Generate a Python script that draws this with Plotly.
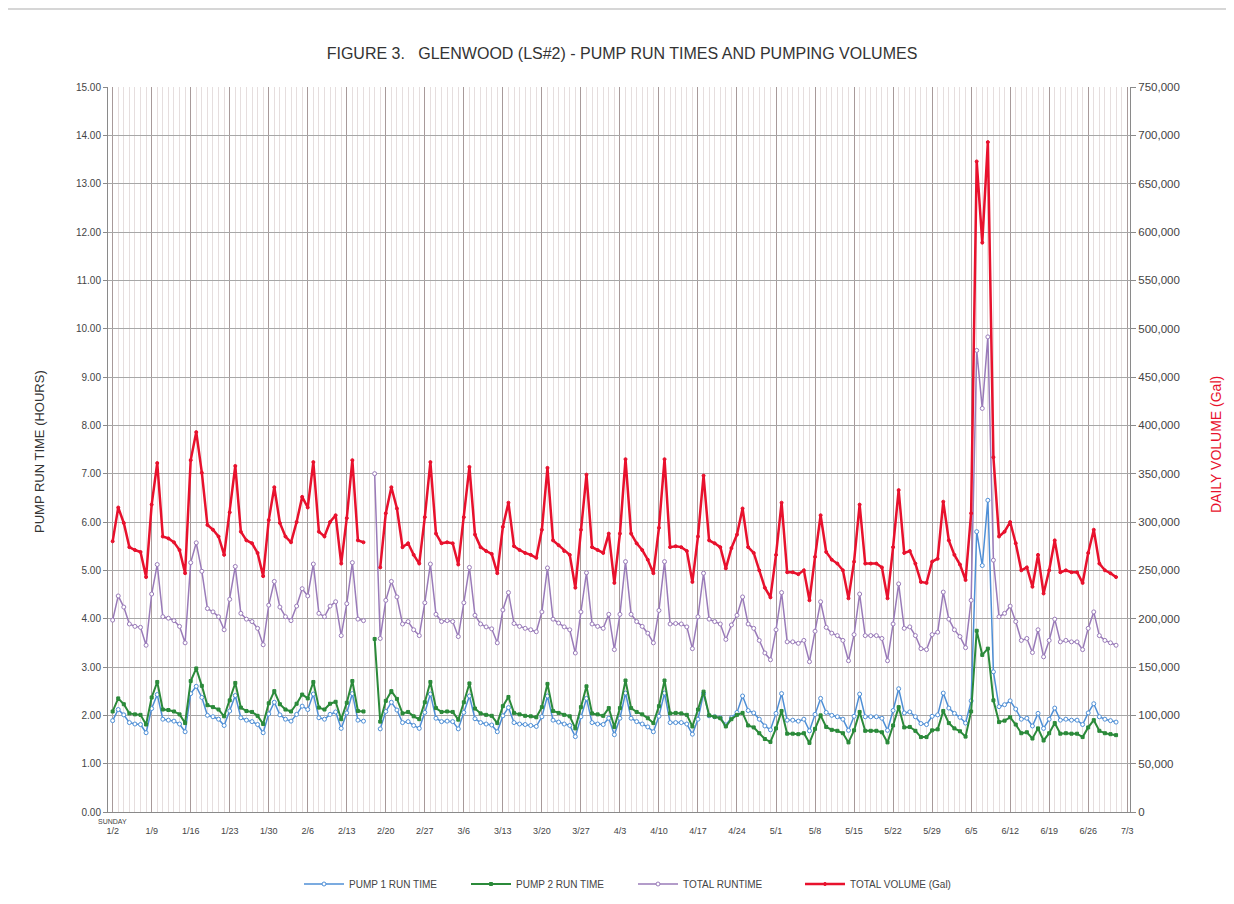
import pandas as pd
import plotly.graph_objects as go

start_date = "2011-01-02"

volume_gal = [
    280000, 315000, 299000, 274000, 271000, 269000, 243000,
    318000, 361000, 285000, 283000, 279000, 271000, 247000,
    364000, 393000, 351000, 297000, 292000, 285000, 266000,
    310000, 358000, 290000, 281000, 278000, 268000, 244000,
    302000, 336000, 299000, 285000, 279000, 300000, 326000,
    315000, 362000, 290000, 285000, 300000, 307000, 257000,
    304000, 364000, 281000, 279000, None, None, 253000,
    309000, 336000, 314000, 274000, 278000, 266000, 257000,
    305000, 362000, 288000, 278000, 279000, 278000, 256000,
    305000, 357000, 287000, 274000, 270000, 267000, 247000,
    295000, 320000, 275000, 271000, 268000, 266000, 263000,
    292000, 356000, 281000, 276000, 270000, 266000, 232000,
    292000, 349000, 274000, 271000, 268000, 288000, 237000,
    288000, 365000, 288000, 278000, 271000, 261000, 247000,
    294000, 365000, 274000, 275000, 274000, 270000, 238000,
    285000, 348000, 281000, 278000, 274000, 252000, 273000,
    287000, 314000, 274000, 268000, 250000, 232000, 222000,
    266000, 320000, 248000, 248000, 246000, 250000, 219000,
    264000, 307000, 269000, 261000, 257000, 250000, 221000,
    259000, 318000, 257000, 257000, 257000, 253000, 221000,
    274000, 333000, 268000, 270000, 257000, 238000, 237000,
    259000, 262000, 321000, 281000, 266000, 256000, 240000,
    309000, 673000, 589000, 693000, 367000, 285000, 290000,
    300000, 278000, 250000, 253000, 233000, 266000, 226000,
    250000, 281000, 248000, 250000, 248000, 248000, 237000,
    268000, 292000, 257000, 250000, 247000, 243000,
]

total_runtime = [
    3.97, 4.47, 4.24, 3.89, 3.84, 3.82, 3.45,
    4.51, 5.12, 4.04, 4.01, 3.96, 3.84, 3.50,
    5.16, 5.57, 4.98, 4.21, 4.14, 4.04, 3.77,
    4.40, 5.08, 4.11, 3.99, 3.94, 3.80, 3.46,
    4.28, 4.77, 4.24, 4.04, 3.96, 4.26, 4.62,
    4.47, 5.13, 4.11, 4.04, 4.26, 4.35, 3.65,
    4.31, 5.16, 3.99, 3.96, None, 7.00, 3.59,
    4.38, 4.77, 4.45, 3.89, 3.94, 3.77, 3.65,
    4.33, 5.13, 4.09, 3.94, 3.96, 3.94, 3.63,
    4.33, 5.06, 4.07, 3.89, 3.83, 3.79, 3.50,
    4.18, 4.54, 3.90, 3.84, 3.80, 3.77, 3.73,
    4.14, 5.05, 3.99, 3.91, 3.83, 3.77, 3.29,
    4.14, 4.95, 3.89, 3.84, 3.80, 4.09, 3.36,
    4.09, 5.18, 4.09, 3.94, 3.84, 3.70, 3.50,
    4.17, 5.18, 3.89, 3.90, 3.89, 3.83, 3.38,
    4.04, 4.94, 3.99, 3.94, 3.89, 3.57, 3.87,
    4.07, 4.45, 3.89, 3.80, 3.55, 3.29, 3.15,
    3.77, 4.54, 3.52, 3.52, 3.49, 3.55, 3.11,
    3.74, 4.35, 3.82, 3.70, 3.65, 3.55, 3.13,
    3.67, 4.51, 3.65, 3.65, 3.65, 3.59, 3.13,
    3.89, 4.72, 3.80, 3.83, 3.65, 3.38, 3.36,
    3.67, 3.72, 4.55, 3.99, 3.77, 3.63, 3.40,
    4.38, 9.55, 8.35, 9.83, 5.21, 4.04, 4.11,
    4.26, 3.94, 3.55, 3.59, 3.30, 3.77, 3.21,
    3.55, 3.99, 3.52, 3.55, 3.52, 3.52, 3.36,
    3.80, 4.14, 3.65, 3.55, 3.50, 3.45,
]

pump1_runtime = [
    1.89, 2.12, 2.01, 1.85, 1.82, 1.81, 1.64,
    2.14, 2.43, 1.92, 1.90, 1.88, 1.82, 1.66,
    2.45, 2.60, 2.37, 2.00, 1.97, 1.92, 1.79,
    2.09, 2.41, 1.95, 1.90, 1.87, 1.81, 1.64,
    2.03, 2.27, 2.01, 1.92, 1.88, 2.02, 2.19,
    2.12, 2.44, 1.95, 1.92, 2.02, 2.07, 1.73,
    2.05, 2.45, 1.90, 1.88, None, None, 1.72,
    2.08, 2.27, 2.11, 1.85, 1.87, 1.79, 1.73,
    2.06, 2.44, 1.94, 1.87, 1.88, 1.87, 1.72,
    2.06, 2.40, 1.93, 1.85, 1.82, 1.80, 1.66,
    1.99, 2.16, 1.85, 1.82, 1.81, 1.79, 1.77,
    1.97, 2.40, 1.90, 1.86, 1.82, 1.79, 1.56,
    1.97, 2.35, 1.85, 1.82, 1.81, 1.94, 1.60,
    1.94, 2.46, 1.94, 1.87, 1.82, 1.76, 1.66,
    1.98, 2.46, 1.85, 1.85, 1.85, 1.82, 1.61,
    1.92, 2.45, 1.99, 1.97, 1.95, 1.80, 1.95,
    2.06, 2.40, 2.10, 2.05, 1.92, 1.78, 1.70,
    2.04, 2.45, 1.90, 1.90, 1.88, 1.92, 1.68,
    2.02, 2.35, 2.06, 2.00, 1.97, 1.92, 1.69,
    1.98, 2.44, 1.97, 1.97, 1.97, 1.94, 1.69,
    2.10, 2.55, 2.05, 2.07, 1.97, 1.83, 1.81,
    1.98, 2.01, 2.46, 2.15, 2.04, 1.96, 1.84,
    2.30, 5.80, 5.10, 6.45, 2.90, 2.18, 2.22,
    2.30, 2.13, 1.92, 1.94, 1.78, 2.04, 1.73,
    1.92, 2.15, 1.90, 1.92, 1.90, 1.90, 1.81,
    2.05, 2.24, 1.97, 1.92, 1.89, 1.86,
]

pump2_runtime = [
    2.08, 2.35, 2.23, 2.04, 2.02, 2.01, 1.81,
    2.37, 2.69, 2.12, 2.11, 2.08, 2.02, 1.84,
    2.71, 2.97, 2.61, 2.21, 2.17, 2.12, 1.98,
    2.31, 2.67, 2.16, 2.09, 2.07, 1.99, 1.82,
    2.25, 2.50, 2.23, 2.12, 2.08, 2.24, 2.43,
    2.35, 2.69, 2.16, 2.12, 2.24, 2.28, 1.92,
    2.26, 2.71, 2.09, 2.08, None, 3.58, 1.87,
    2.30, 2.50, 2.34, 2.04, 2.07, 1.98, 1.92,
    2.27, 2.69, 2.15, 2.07, 2.08, 2.07, 1.91,
    2.27, 2.66, 2.14, 2.04, 2.01, 1.99, 1.84,
    2.19, 2.38, 2.05, 2.02, 1.99, 1.98, 1.96,
    2.17, 2.65, 2.09, 2.05, 2.01, 1.98, 1.73,
    2.17, 2.60, 2.04, 2.02, 1.99, 2.15, 1.76,
    2.15, 2.72, 2.15, 2.07, 2.02, 1.94, 1.84,
    2.19, 2.72, 2.04, 2.05, 2.04, 2.01, 1.77,
    2.12, 2.49, 2.00, 1.97, 1.94, 1.77, 1.92,
    2.01, 2.05, 1.79, 1.75, 1.63, 1.51, 1.45,
    1.73, 2.09, 1.62, 1.62, 1.61, 1.63, 1.43,
    1.72, 2.00, 1.76, 1.70, 1.68, 1.63, 1.44,
    1.69, 2.07, 1.68, 1.68, 1.68, 1.65, 1.44,
    1.79, 2.17, 1.75, 1.76, 1.68, 1.55, 1.55,
    1.69, 1.71, 2.09, 1.84, 1.73, 1.67, 1.56,
    2.08, 3.75, 3.25, 3.38, 2.31, 1.86, 1.89,
    1.96, 1.81, 1.63, 1.65, 1.52, 1.73, 1.48,
    1.63, 1.84, 1.62, 1.63, 1.62, 1.62, 1.55,
    1.75, 1.90, 1.68, 1.63, 1.61, 1.59,
]

dates = pd.date_range(start_date, periods=len(volume_gal), freq="D")

FONT = "Liberation Sans, Arial, sans-serif"
BLUE = "#4f8fd6"
GREEN = "#2b8a3a"
PURPLE = "#9a7bb9"
RED = "#e8112d"

fig = go.Figure()
fig.add_trace(go.Scatter(
    x=dates, y=pump1_runtime, name="PUMP 1 RUN TIME", mode="lines+markers",
    line=dict(color=BLUE, width=1.5),
    marker=dict(symbol="circle", size=4, color="white", line=dict(color=BLUE, width=1)),
))
fig.add_trace(go.Scatter(
    x=dates, y=pump2_runtime, name="PUMP 2 RUN TIME", mode="lines+markers",
    line=dict(color=GREEN, width=2),
    marker=dict(symbol="square", size=3, color=GREEN, line=dict(color=GREEN, width=1)),
))
fig.add_trace(go.Scatter(
    x=dates, y=total_runtime, name="TOTAL RUNTIME", mode="lines+markers",
    line=dict(color=PURPLE, width=1.5),
    marker=dict(symbol="circle", size=4, color="white", line=dict(color=PURPLE, width=1)),
))
fig.add_trace(go.Scatter(
    x=dates, y=volume_gal, name="TOTAL VOLUME (Gal)", mode="lines+markers", yaxis="y2",
    line=dict(color=RED, width=2.5),
    marker=dict(symbol="circle", size=3, color=RED, line=dict(color=RED, width=1)),
))

# the page body has an 8px margin on every side: size the figure so the page is 1234x904
OFF = 8
FIG_W, FIG_H = 1234 - 2 * OFF, 904 - 2 * OFF
plot_l, plot_r, plot_t, plot_b = 108 - OFF, 1130 - OFF, 87 - OFF, 812 - OFF
W = plot_r - plot_l
H = plot_b - plot_t


def px_x(page_px):
    return (page_px - OFF - plot_l) / W


def px_y(page_py):
    return (plot_b - (page_py - OFF)) / H


fig.update_layout(
    width=FIG_W, height=FIG_H,
    margin=dict(l=plot_l, r=FIG_W - plot_r, t=plot_t, b=FIG_H - plot_b, autoexpand=False),
    paper_bgcolor="white", plot_bgcolor="white",
    font=dict(family=FONT, color="#333333", size=10),
    title=dict(text="FIGURE 3.   GLENWOOD (LS#2) - PUMP RUN TIMES AND PUMPING VOLUMES",
               x=px_x(622), xref="paper", xanchor="center",
               y=1 - (53 - OFF) / FIG_H, yanchor="middle",
               font=dict(family=FONT, size=16, color="#333333")),
    showlegend=True,
    legend=dict(orientation="h", x=px_x(633), xanchor="center", y=px_y(884), yanchor="middle",
                font=dict(family=FONT, size=10, color="#444444"), itemwidth=40,
                entrywidth=112, entrywidthmode="pixels",
                bgcolor="rgba(0,0,0,0)"),
    xaxis=dict(
        type="date",
        range=["2011-01-01 04:00", "2011-07-03 12:00"],
        tickmode="linear", tick0="2011-01-02", dtick=7 * 86400000,
        tickformat="%-m/%-d",
        tickfont=dict(size=9, color="#444444"),
        ticklabelstandoff=10,
        showgrid=True, gridcolor="#a89a9a", gridwidth=1,
        minor=dict(dtick=86400000, tick0="2011-01-02", showgrid=True, gridcolor="#e6dede", gridwidth=1),
        showline=True, linecolor="#8a8a8a", linewidth=1,
        ticks="", zeroline=False,
    ),
    yaxis=dict(
        range=[0, 15], dtick=1, tickformat=".2f",
        tickfont=dict(size=10, color="#444444"),
        showgrid=True, gridcolor="#a7a7a7", gridwidth=1,
        showline=True, linecolor="#8a8a8a", linewidth=1,
        ticks="outside", ticklen=4, tickcolor="#8a8a8a",
        zeroline=False,
    ),
    yaxis2=dict(
        range=[0, 750000], dtick=50000, tickformat=",",
        overlaying="y", side="right",
        tickfont=dict(size=11.5, color="#444444"),
        showgrid=False, showline=True, linecolor="#8a8a8a", linewidth=1,
        ticks="outside", ticklen=5, tickcolor="#8a8a8a",
        zeroline=False,
    ),
    annotations=[
        dict(text="PUMP RUN TIME (HOURS)", xref="paper", yref="paper",
             x=px_x(39), y=px_y(452), xanchor="center", yanchor="middle",
             textangle=-90, showarrow=False,
             font=dict(family=FONT, size=13, color="#333333")),
        dict(text="DAILY VOLUME (Gal)", xref="paper", yref="paper",
             x=px_x(1216), y=px_y(445), xanchor="center", yanchor="middle",
             textangle=-90, showarrow=False,
             font=dict(family=FONT, size=14, color=RED)),
        dict(text="SUNDAY", xref="x", yref="paper", x=dates[0], y=px_y(821),
             yanchor="middle", showarrow=False,
             font=dict(family=FONT, size=7, color="#444444")),
    ],
    shapes=[
        dict(type="line", xref="paper", yref="paper", x0=px_x(8), x1=px_x(1226),
             y0=px_y(9), y1=px_y(9), line=dict(color="#c8c8c8", width=1.5)),
    ],
)

fig.write_html("out.html")
